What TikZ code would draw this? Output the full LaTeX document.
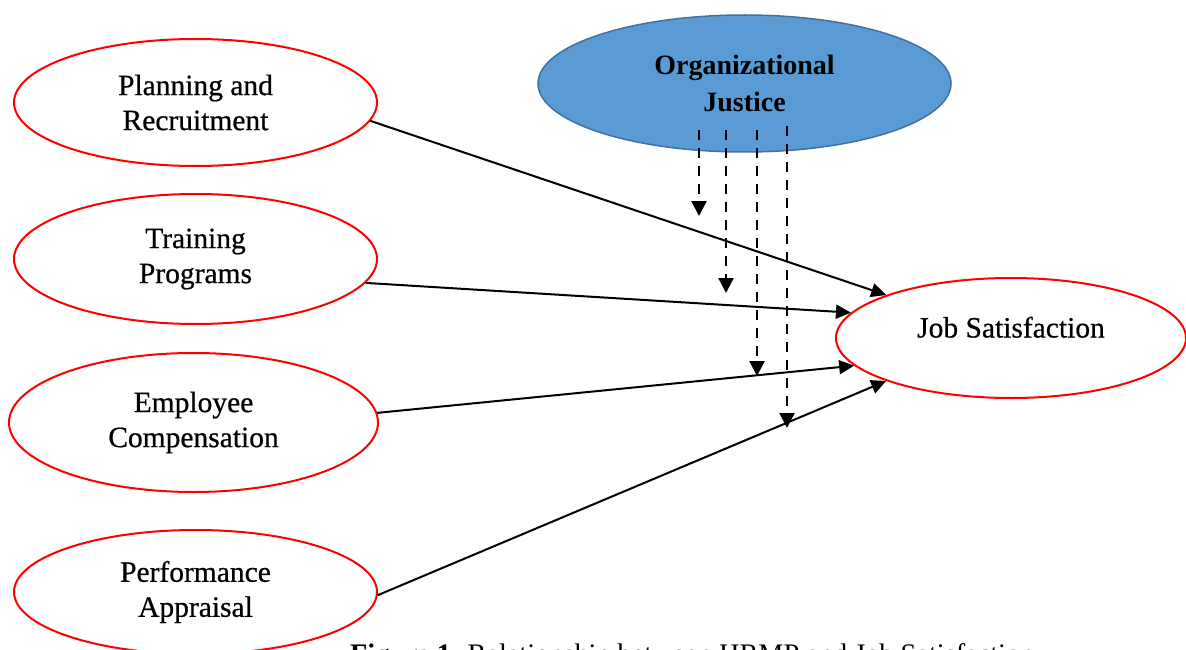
\documentclass[tikz,border=0pt]{standalone}
\usepackage{fontspec}
\setmainfont{Liberation Serif}
\newfontfamily\ellfont[FakeBold=0.6]{Liberation Serif}
\usetikzlibrary{shapes.geometric,arrows.meta,calc}
\definecolor{ojfill}{RGB}{91,155,213}
\definecolor{ojdraw}{RGB}{65,113,156}
\begin{document}
\begin{tikzpicture}[x=1pt,y=-1pt,
  ell/.style={ellipse, draw=red, line width=2pt, inner sep=0pt, align=center,
    font=\ellfont\fontsize{29.5}{35}\selectfont},
  ojell/.style={ellipse, draw=ojdraw, fill=ojfill, line width=1.5pt, inner sep=0pt,
    align=center, font=\bfseries\fontsize{28}{37}\selectfont},
  conn/.style={line width=2pt, -{Triangle[length=15pt,width=14pt]}},
  dconn/.style={line width=2.3pt, dash pattern=on 10pt off 8pt,
    -{Triangle[length=15pt,width=15pt]}}]
\useasboundingbox (0,0) rectangle (1186,650);
\clip (0,0) rectangle (1186,650);

\node[ell, minimum width=363pt, minimum height=127pt] (plan) at (195.5,102.5) {Planning and\\Recruitment};
\node[ell, minimum width=363pt, minimum height=130pt] (train) at (195.5,259) {Training\\Programs};
\node[ell, minimum width=369pt, minimum height=139pt] (emp) at (193.5,422.5) {Employee\\Compensation};
\node[ell, minimum width=363pt, minimum height=124pt] (perf) at (195.5,592) {Performance\\Appraisal};
\node[ell, minimum width=350pt, minimum height=120pt] (job) at (1011,338) {\raisebox{10pt}[19pt][0pt]{Job Satisfaction}};
\node[ojell, minimum width=413pt, minimum height=137pt] (oj) at (744.5,83.5) {Organizational\\Justice};

\draw[conn] (plan.-6) -- (job.161.6);
\draw[conn] (train.-8) -- (job.171.5);
\draw[conn] (emp.3.6) -- (job.190.9);
\draw[conn] (perf.-1.6) -- (job.199);

\coordinate (da1) at ($(oj.center)+(-45.5,46.5)$);
\coordinate (da2) at ($(oj.center)+(-45.5,132.5)$);
\coordinate (db1) at ($(oj.center)+(-18.5,46.5)$);
\coordinate (db2) at ($(oj.center)+(-18.5,209.5)$);
\coordinate (dc1) at ($(oj.center)+(12.5,46.5)$);
\coordinate (dc2) at ($(oj.center)+(12.5,292.5)$);
\coordinate (dd1) at ($(oj.center)+(42.5,42.5)$);
\coordinate (dd2) at ($(oj.center)+(42.5,344.5)$);
\draw[dconn] (da1) -- (da2);
\draw[dconn] (db1) -- (db2);
\draw[dconn] (dc1) -- (dc2);
\draw[dconn] (dd1) -- (dd2);

\node[anchor=base west, inner sep=0pt, font=\fontsize{28.3}{32}\selectfont] (cap) at (350,663)
  {\textbf{Figure 1.} Relationship between HRMP and Job Satisfaction};
\end{tikzpicture}
\end{document}
